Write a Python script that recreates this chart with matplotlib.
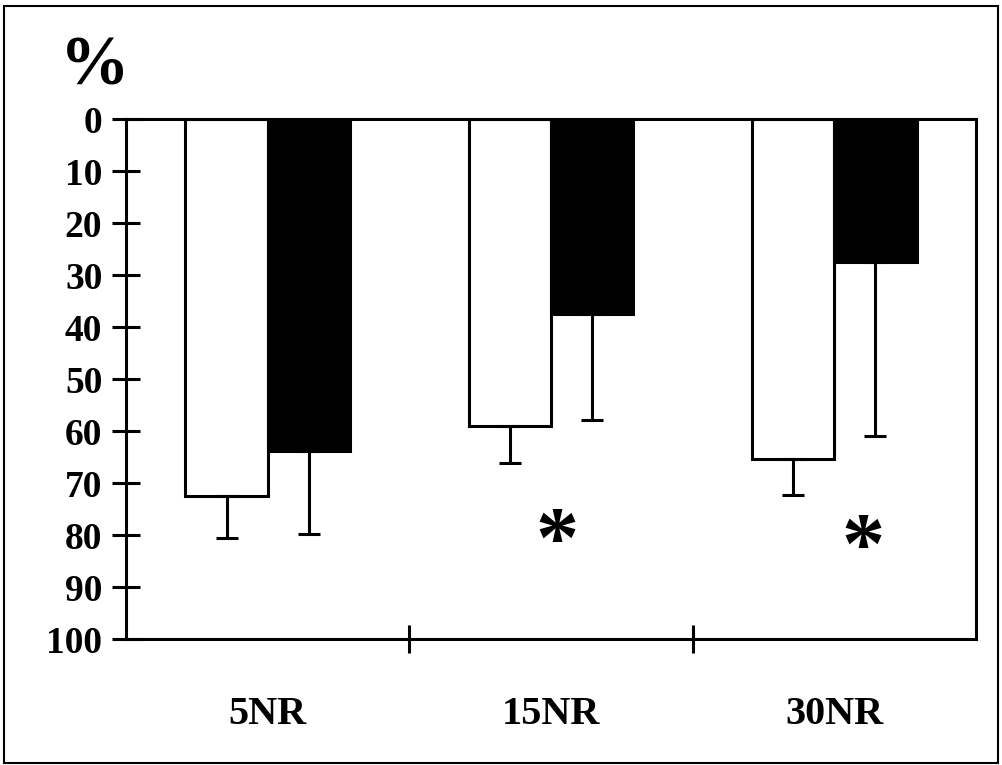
import matplotlib
matplotlib.use("Agg")
import matplotlib.pyplot as plt
from matplotlib.patches import Rectangle
import numpy as np

# data (percent, axis runs downward)
groups = ["5NR", "15NR", "30NR"]
white_vals = [72.5, 59.0, 65.4]
white_err = [8.1, 7.2, 6.9]
black_vals = [63.8, 37.4, 27.4]
black_err = [16.0, 20.4, 33.5]
star_x = [1.02, 2.10]
star_y = [82.0, 83.2]

plt.rcParams['font.family'] = ['Liberation Serif', 'DejaVu Serif']
plt.rcParams['font.weight'] = 'bold'

fig = plt.figure(figsize=(10.03, 7.65), dpi=100)
ax = fig.add_axes([0.1256, 0.1647, 0.8475, 0.6797])

x = np.arange(len(groups))
w = 0.29
ekw = dict(elinewidth=2.2, capsize=8, capthick=2.2, ecolor='black')
ax.bar(x - w/2, white_vals, w, color='white', edgecolor='black', linewidth=2.2,
       yerr=[np.zeros(3), white_err], error_kw=ekw)
ax.bar(x + w/2, black_vals, w, color='black', edgecolor='black', linewidth=2.2,
       yerr=[np.zeros(3), black_err], error_kw=ekw)

for sx, sy in zip(star_x, star_y):
    ax.text(sx, sy, '*', fontsize=62, fontweight='bold', ha='center', va='center')

ax.set_xlim(-0.5, 2.5)
ax.set_ylim(100, 0)
ax.set_yticks(np.arange(0, 101, 10))
ax.tick_params(axis='y', direction='inout', length=20, width=2.2, labelsize=27, pad=7)
ax.set_xticks([0.5, 1.5])
ax.set_xticklabels([])
ax.tick_params(axis='x', which='major', direction='inout', length=20, width=2.2)
ax.set_xticks(x, minor=True)
ax.set_xticklabels(groups, minor=True)
ax.tick_params(axis='x', which='minor', length=0, labelsize=29, pad=41)
for s in ax.spines.values():
    s.set_linewidth(2.2)

# percent sign above the y axis
fig.text(0.094, 0.912, '%', fontsize=50, fontweight='bold', ha='center', va='center')

fig.patches.append(Rectangle((0.004, 0.003), 0.991, 0.989, transform=fig.transFigure,
                             fill=False, edgecolor='black', linewidth=1.5))

fig.savefig('out.png', dpi=100)
